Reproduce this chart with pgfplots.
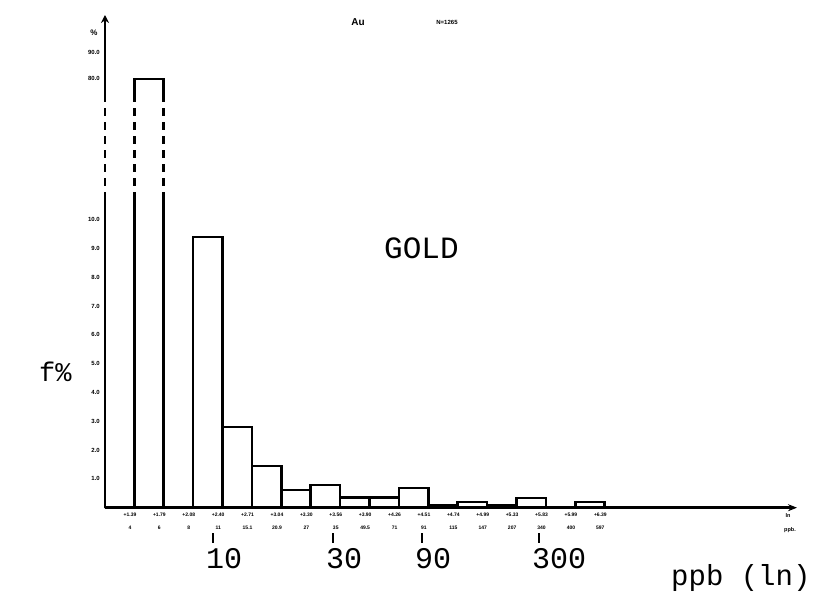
\documentclass[border=0pt]{standalone}
\usepackage{pgfplots}
\pgfplotsset{compat=1.18}
\usepackage{fontspec}
\setmainfont{Liberation Mono}
\setsansfont{Liberation Sans}
\usetikzlibrary{arrows.meta}
\begin{document}
\begin{tikzpicture}[x=1pt,y=1pt]
\path[use as bounding box] (-105,-90.3) rectangle (712,507.7);
\begin{axis}[
  at={(0,0)}, anchor=south west,
  scale only axis, width=692pt, height=492.7pt,
  xmin=0, xmax=23.54, ymin=0, ymax=17.1,
  axis lines=left, clip=false,
  x axis line style={line width=2.6pt, -{Stealth[length=9pt,width=7pt]}},
  y axis line style={line width=2.6pt, -{Stealth[length=8pt,width=8pt]}},
  major tick length=0pt,
  ytick={1,2,3,4,5,6,7,8,9,10,14.885,15.79},
  yticklabels={1.0,2.0,3.0,4.0,5.0,6.0,7.0,8.0,9.0,10.0,80.0,90.0},
  yticklabel style={font=\sffamily\bfseries\fontsize{6}{6}\selectfont, inner sep=0pt, xshift=-5pt},
  xtick={0.85,1.85,2.85,3.85,4.85,5.85,6.85,7.85,8.85,9.85,10.85,11.85,12.85,13.85,14.85,15.85,16.85},
  xticklabels={{+1.39\\4},{+1.79\\6},{+2.08\\8},{+2.40\\11},{+2.71\\15.1},{+3.04\\20.9},{+3.30\\27},{+3.56\\35},{+3.90\\49.5},{+4.26\\71},{+4.51\\91},{+4.74\\115},{+4.99\\147},{+5.33\\207},{+5.83\\340},{+5.99\\400},{+6.39\\597}},
  xticklabel style={align=center, font=\sffamily\bfseries\fontsize{5}{13}\selectfont, inner sep=0pt, yshift=-5pt},
]
\addplot[ybar interval, draw=black, line width=2.6pt, fill=none,
  y filter/.expression={y>20 ? 14.885+(y-80)*0.0905 : y}]
  coordinates {(0,0) (1,80) (2,0) (3,9.4) (4,2.8) (5,1.45) (6,0.61) (7,0.79)
    (8,0.35) (9,0.35) (10,0.68) (11,0.07) (12,0.2) (13,0.1) (14,0.33) (15,0)
    (16,0.2) (17,0) (18,0)};
\fill[white] (axis cs:-0.15,10.68) rectangle (axis cs:2.15,14.26);
\draw[line width=2.6pt, dash pattern=on 8pt off 6pt] (axis cs:0,10.68) -- (axis cs:0,14.26);
\draw[line width=2.6pt, dash pattern=on 8pt off 6pt] (axis cs:1,10.68) -- (axis cs:1,14.26);
\draw[line width=2.6pt, dash pattern=on 8pt off 6pt] (axis cs:2,10.68) -- (axis cs:2,14.26);
\end{axis}
% annotations
\node[anchor=base west, font=\fontsize{31}{31}\selectfont, inner sep=0pt] at (279,248.7) {GOLD};
\node[anchor=base west, font=\fontsize{27}{27}\selectfont, inner sep=0pt] at (-66,126.7) {f\%};
\node[anchor=base west, font=\fontsize{29}{29}\selectfont, inner sep=0pt] at (566,-77.3) {ppb (ln)};
\foreach \tx/\lab in {213/10, 333/30, 422/90, 539/300}{
  \draw[line width=2.4pt] ({\tx-105},-25.3) -- ({\tx-105},-35.3);
  \node[anchor=base west, font=\fontsize{30}{30}\selectfont, inner sep=0pt] at ({\tx-105-7},-60.3) {\lab};
}
\node[font=\sffamily\bfseries\fontsize{10}{10}\selectfont, inner sep=0pt] at (253,485.7) {Au};
\node[font=\sffamily\bfseries\fontsize{6}{6}\selectfont, inner sep=0pt] at (342,485.7) {N=1265};
\node[font=\sffamily\bfseries\fontsize{8}{8}\selectfont, inner sep=0pt] at (-11,474.7) {\%};
\node[font=\sffamily\bfseries\fontsize{5.5}{5.5}\selectfont, inner sep=0pt] at (683,-8.3) {ln};
\node[font=\sffamily\bfseries\fontsize{5.5}{5.5}\selectfont, inner sep=0pt] at (685,-22.3) {ppb.};
\end{tikzpicture}
\end{document}
